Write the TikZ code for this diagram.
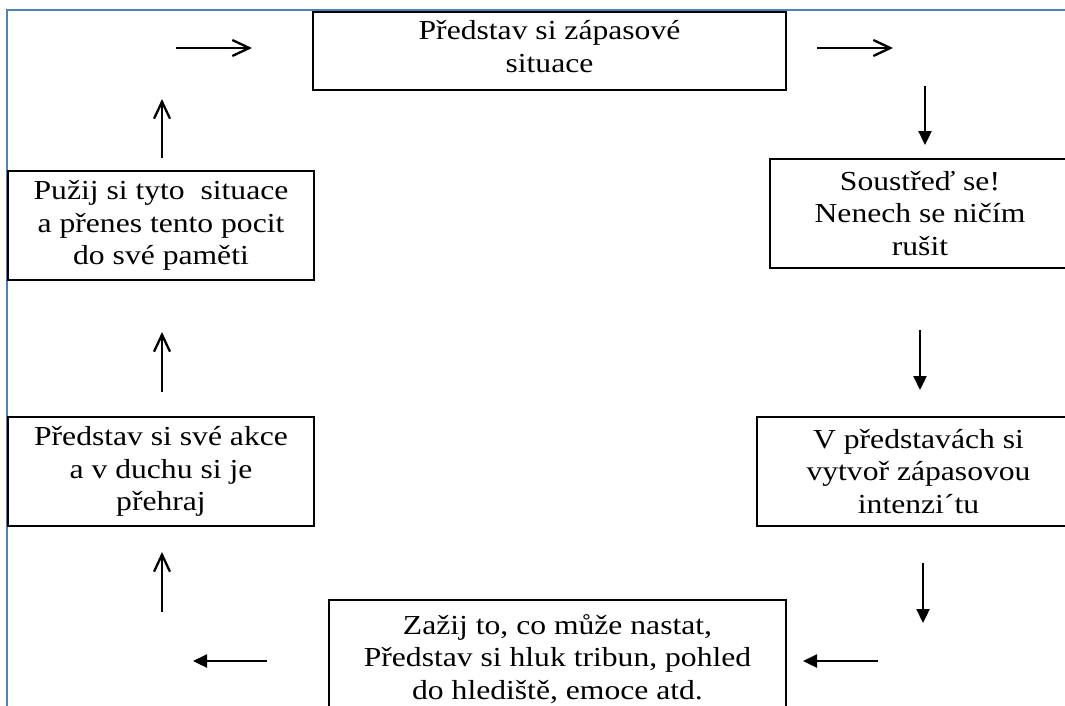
\documentclass[tikz,border=0pt]{standalone}
\usepackage{fontspec}
\setmainfont{Liberation Serif}[FakeStretch=1.15]
\usetikzlibrary{arrows.meta}
\definecolor{framecol}{HTML}{4F81BD}
\begin{document}
\begin{tikzpicture}[x=1pt,y=-1pt,
  box/.style={draw=black, line width=2.4pt, inner sep=0pt, align=center,
    font={\fontsize{27.5}{32.5}\selectfont}},
  openarrow/.style={line width=2.3pt, -{Straight Barb[length=17pt,width=16pt,line width=2.3pt]}},
  fillarrow/.style={line width=2.3pt, -{Triangle[length=14pt,width=13pt]}},
  framestyle/.style={draw=framecol, line width=2.2pt}]
\useasboundingbox (0,0) rectangle (1065,705);
\clip (0,0) rectangle (1065,705);
\fill[white] (0,0) rectangle (1065,705);
\draw[framestyle] (1070,10) -- (7,10) -- (7,710);

\node[box, minimum width=473pt, minimum height=78pt, text depth=9pt] (top) at (549.5,51)
  {Představ si zápasové\\situace};
\node[box, minimum width=300pt, minimum height=109pt] (r1) at (920,213.5)
  {Soustřeď se!\\Nenech se ničím\\rušit};
\node[box, minimum width=323pt, minimum height=109pt] (r2) at (918.5,471.5)
  {V představách si\\vytvoř zápasovou\\intenzi´tu};
\node[box, minimum width=457pt, minimum height=118pt] (bot) at (557.5,659)
  {Zažij to, co může nastat,\\Představ si hluk tribun, pohled\\do hlediště, emoce atd.};
\node[box, minimum width=306pt, minimum height=109pt] (l2) at (161,471.5)
  {Představ si své akce\\a v duchu si je\\přehraj};
\node[box, minimum width=306pt, minimum height=109pt] (l1) at (161,225.5)
  {Pužij si tyto\ \ situace\\a přenes tento pocit\\do své paměti};

% arrow end points
\coordinate (a1s) at (176,48);  \coordinate (a1e) at (252,48);
\coordinate (a2s) at (817,48);  \coordinate (a2e) at (893,48);
\coordinate (a3s) at (925,86);  \coordinate (a3e) at (925,145);
\coordinate (a4s) at (920,330); \coordinate (a4e) at (920,390);
\coordinate (a5s) at (923,563); \coordinate (a5e) at (923,623);
\coordinate (a6s) at (878,661); \coordinate (a6e) at (803,661);
\coordinate (a7s) at (267,661); \coordinate (a7e) at (193,661);
\coordinate (a8s) at (162,612); \coordinate (a8e) at (162,552);
\coordinate (a9s) at (162,392); \coordinate (a9e) at (162,332);
\coordinate (a10s) at (162,158); \coordinate (a10e) at (162,99);

\draw[openarrow] (a1s) -- (a1e);
\draw[openarrow] (a2s) -- (a2e);
\draw[fillarrow] (a3s) -- (a3e);
\draw[fillarrow] (a4s) -- (a4e);
\draw[fillarrow] (a5s) -- (a5e);
\draw[fillarrow] (a6s) -- (a6e);
\draw[fillarrow] (a7s) -- (a7e);
\draw[openarrow] (a8s) -- (a8e);
\draw[openarrow] (a9s) -- (a9e);
\draw[openarrow] (a10s) -- (a10e);
\end{tikzpicture}
\end{document}
